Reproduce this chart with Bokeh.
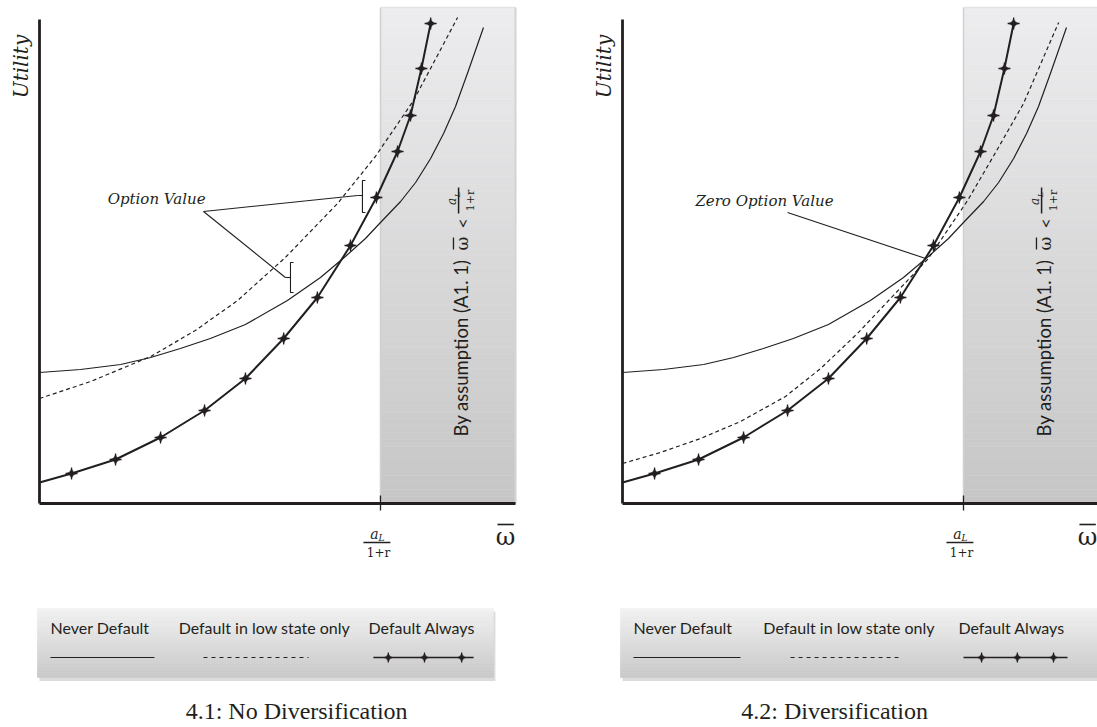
import numpy as np
from bokeh.plotting import figure
from bokeh.layouts import row
from bokeh.models import Range1d
from bokeh.embed import file_html
from bokeh.resources import INLINE
from bokeh.core.properties import value

# ---------------- data ----------------
# x: omega-bar, in units of a_L/(1+r) (tick at 1); y: utility (arbitrary units)
never_x = [0.000, 0.120, 0.238, 0.326, 0.413, 0.501, 0.604, 0.727, 0.824, 0.897,
           0.956, 1.000, 1.059, 1.103, 1.147, 1.185, 1.220, 1.258, 1.302]
never_y = [1.31, 1.34, 1.39, 1.46, 1.55, 1.65, 1.79, 2.03, 2.26, 2.47,
           2.65, 2.81, 3.02, 3.21, 3.45, 3.70, 3.97, 4.33, 4.76]

low_nodiv_x = [0.000, 0.150, 0.326, 0.457, 0.581, 0.721, 0.874, 0.985, 1.097, 1.167, 1.226]
low_nodiv_y = [1.05, 1.22, 1.47, 1.73, 2.03, 2.46, 3.00, 3.47, 4.03, 4.48, 4.86]

low_div_x = [0.000, 0.111, 0.229, 0.346, 0.478, 0.581, 0.689, 0.786, 0.897, 1.012,
             1.094, 1.176, 1.279]
low_div_y = [0.40, 0.51, 0.65, 0.82, 1.07, 1.35, 1.70, 2.05, 2.45, 3.03, 3.51, 4.00, 4.81]

always_x = [0.000, 0.094, 0.223, 0.355, 0.484, 0.604, 0.716, 0.815, 0.912, 0.988,
            1.050, 1.088, 1.120, 1.147]
always_y = [0.21, 0.30, 0.44, 0.66, 0.93, 1.25, 1.65, 2.06, 2.58, 3.06, 3.52, 3.88, 4.35, 4.80]

legend_labels = ["Never Default", "Default in low state only", "Default Always"]
captions = ["4.1: No Diversification", "4.2: Diversification"]
notes = ["Option Value", "Zero Option Value"]
assumption = "By assumption (A1. 1)"

# ---------------- style / geometry ----------------
INK = "#231f20"
SX, SY = 341.0, 100.0          # pixels per data unit
H = 727
AXIS_OFF = 39                  # px from figure's left edge to the y axis
Y_TOP = 503 / SY
Y_BOT = Y_TOP - H / SY


def grad(p, x0, x1, y0, y1, c_bot, c_top, n=70):
    ys = np.linspace(y0, y1, n + 1)
    t = (np.arange(n) + 0.5) / n
    cb, ct = np.array(c_bot, float), np.array(c_top, float)
    cols = ["#%02x%02x%02x" % tuple(int(round(v)) for v in cb + (ct - cb) * k) for k in t]
    p.quad(left=x0, right=x1, bottom=ys[:-1], top=ys[1:], fill_color=cols,
           line_color=cols, line_width=0.6)


def txt(p, x, y, s, font, size, style="normal", align="center", baseline="middle", angle=0.0):
    p.text(x=[x], y=[y], text=[s], text_font=value(font), text_font_size=size,
           text_font_style=style, text_align=align, text_baseline=baseline,
           angle=angle, text_color=INK)


def stars(p, xs, ys, size=12, body=7, lw=1.3):
    p.scatter(xs, ys, marker="cross", size=size, line_color=INK, line_width=lw)
    p.scatter(xs, ys, marker="square_pin", size=body, angle=np.pi / 4,
              fill_color=INK, line_color=INK, line_width=0.5)


def panel(width, low_x, low_y, caption, which):
    x0 = -AXIS_OFF / SX
    x1 = x0 + width / SX
    p = figure(width=width, height=H, x_range=Range1d(x0, x1), y_range=Range1d(Y_BOT, Y_TOP),
               x_axis_type=None, y_axis_type=None, toolbar_location=None,
               output_backend="svg", min_border=0, outline_line_color=None)
    p.background_fill_color = "white"
    p.border_fill_color = "white"

    # shaded region omega-bar > a_L/(1+r)
    shade_r = 1.396 if which == 0 else x1 + 0.05
    shade_t = 4.96
    grad(p, 1.0, shade_r, 0.0, shade_t, (198, 198, 198), (237, 237, 239))
    p.segment(x0=[1.0], y0=[0.0], x1=[1.0], y1=[shade_t], line_color="#d0d0d0", line_width=1.5)
    p.segment(x0=[1.0], y0=[shade_t], x1=[shade_r], y1=[shade_t], line_color="#e4e4e4", line_width=1.5)
    if which == 0:
        p.segment(x0=[shade_r], y0=[0.0], x1=[shade_r], y1=[shade_t], line_color="#d4d4d4", line_width=2)

    # axes
    p.line([0, 0], [0, 4.84], line_color=INK, line_width=2.8)
    p.line([0, 1.396 if which == 0 else x1], [0, 0], line_color=INK, line_width=2.8)
    p.segment(x0=[1.0], y0=[0.08], x1=[1.0], y1=[-0.07], line_color=INK, line_width=1.3)

    # curves
    p.line(never_x, never_y, line_color=INK, line_width=1.2)
    p.line(low_x, low_y, line_color=INK, line_width=1.2, line_dash="4 3")
    p.line(always_x, always_y, line_color=INK, line_width=2.0)
    stars(p, always_x[1:], always_y[1:])

    # axis labels
    txt(p, -0.0528, 4.37, "Utility", "DejaVu Serif", "20px", "italic", angle=np.pi / 2)
    txt(p, 0.982, -0.30, "a", "DejaVu Serif", "14px", "italic")
    txt(p, 1.003, -0.34, "L", "DejaVu Serif", "9px", "italic")
    p.segment(x0=[0.950], y0=[-0.39], x1=[1.029], y1=[-0.39], line_color=INK, line_width=1.5)
    txt(p, 0.994, -0.49, "1+r", "DejaVu Serif", "12px")
    wx = 1.367 if which == 0 else 1.364
    txt(p, wx, -0.335, "\u03c9", "DejaVu Serif", "24px")
    p.segment(x0=[wx - 0.024], y0=[-0.21], x1=[wx + 0.024], y1=[-0.21], line_color=INK, line_width=1.6)

    # assumption text (rotated) inside shaded area
    xc = 1.235
    txt(p, xc, 0.67, assumption, "Lato", "18.5px", align="left", angle=np.pi / 2)
    txt(p, 1.240, 2.60, "\u03c9", "DejaVu Serif", "17px", angle=np.pi / 2)
    p.segment(x0=[1.214], y0=[2.54], x1=[1.214], y1=[2.66], line_color=INK, line_width=1.3)
    txt(p, xc + 0.004, 2.80, "<", "Lato", "18px", angle=np.pi / 2)
    txt(p, 1.211, 3.02, "a", "DejaVu Serif", "12px", "italic", angle=np.pi / 2)
    txt(p, 1.225, 3.09, "L", "DejaVu Serif", "8px", "italic", angle=np.pi / 2)
    p.segment(x0=[1.229], y0=[2.90], x1=[1.229], y1=[3.16], line_color=INK, line_width=1.5)
    txt(p, 1.265, 3.03, "1+r", "DejaVu Serif", "11px", angle=np.pi / 2)

    # annotations
    if which == 0:
        txt(p, 0.487, 3.05, notes[0], "DejaVu Serif", "15px", "italic", align="right")
        p.multi_line(xs=[[0.481, 0.933], [0.481, 0.721]], ys=[[2.92, 3.08], [2.92, 2.26]],
                     line_color=INK, line_width=1.1)
        # brackets
        p.multi_line(xs=[[0.956, 0.947, 0.947, 0.956], [0.933, 0.947],
                         [0.745, 0.736, 0.736, 0.745], [0.721, 0.736]],
                     ys=[[3.23, 3.23, 2.91, 2.91], [3.08, 3.08],
                         [2.41, 2.41, 2.11, 2.11], [2.26, 2.26]],
                     line_color=INK, line_width=1.1)
    else:
        txt(p, 0.619, 3.03, notes[1], "DejaVu Serif", "15px", "italic", align="right")
        p.line([0.484, 0.889], [2.91, 2.45], line_color=INK, line_width=1.1)

    # legend box
    bx0 = -0.006
    bx1 = 1.331 if which == 0 else x1 + 0.05
    p.quad(left=[bx0 + 0.006], right=[bx1 + 0.006], bottom=[-1.775], top=[-1.08],
           fill_color="#9a9a9a", fill_alpha=0.35, line_color=None)
    grad(p, bx0, bx1, -1.74, -1.05, (200, 200, 200), (242, 242, 242), n=40)
    if which == 0:
        lx = [0.032, 0.408, 0.965]
        sol, dsh, stl, stp = (0.032, 0.337), (0.481, 0.789), (0.979, 1.273), [1.023, 1.129, 1.238]
    else:
        lx = [0.032, 0.413, 0.985]
        sol, dsh, stl, stp = (0.032, 0.346), (0.493, 0.809), (1.0, 1.305), [1.053, 1.158, 1.264]
    for xx, lab in zip(lx, legend_labels):
        txt(p, xx, -1.24, lab, "Lato", "16px", align="left")
    p.line(list(sol), [-1.54, -1.54], line_color=INK, line_width=1.2)
    p.line(list(dsh), [-1.54, -1.54], line_color=INK, line_width=1.2, line_dash="4 4")
    p.line(list(stl), [-1.54, -1.54], line_color=INK, line_width=1.4)
    stars(p, stp, [-1.54] * 3, size=10, body=6, lw=1.2)

    # caption
    cx = 0.754 if which == 0 else 0.622
    txt(p, cx, -2.075, caption, "Liberation Serif", "24px", baseline="middle")
    return p


left = panel(583, low_nodiv_x, low_nodiv_y, captions[0], 0)
right = panel(514, low_div_x, low_div_y, captions[1], 1)
layout = row(left, right)
open("out.html", "w").write(file_html(layout, INLINE))
